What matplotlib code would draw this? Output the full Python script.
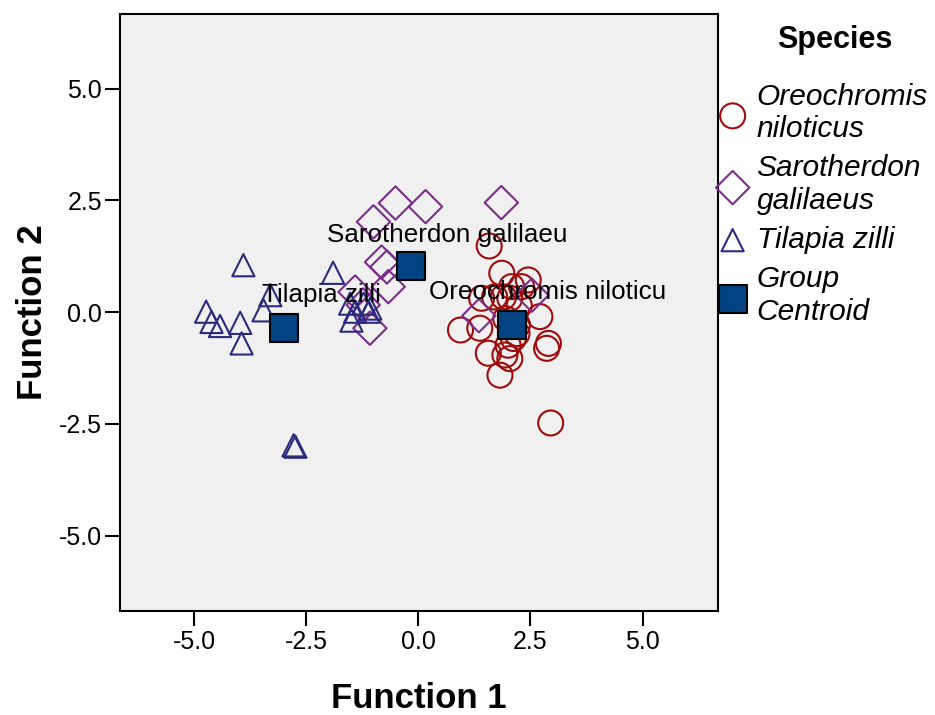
import matplotlib
matplotlib.use("Agg")
import matplotlib.pyplot as plt
from matplotlib.ticker import FormatStrFormatter

plt.rcParams['font.family'] = ['Liberation Sans', 'DejaVu Sans']
plt.rcParams['axes.unicode_minus'] = False

# ---- data ----
oreo_x = [1.58, 1.86, 2.45, 2.30, 2.08, 1.41, 1.70, 2.04, 1.90, 2.71, 0.94, 1.37, 2.21,
          2.12, 2.20, 2.90, 2.86, 1.56, 1.93, 2.04, 2.00, 1.82, 2.95, 2.25, 1.95]
oreo_y = [1.48, 0.87, 0.72, 0.57, 0.57, 0.31, 0.34, 0.31, 0.34, -0.10, -0.40, -0.36, -0.29,
          -0.59, -0.48, -0.70, -0.81, -0.92, -0.96, -1.04, -0.74, -1.41, -2.48, 0.15, -0.15]

saro_x = [-0.51, 0.16, 1.85, -1.00, -0.82, -0.70, -0.67, -1.41, -1.23, -1.08, 1.35, 2.53]
saro_y = [2.44, 2.36, 2.45, 2.02, 1.12, 1.01, 0.57, 0.45, 0.16, -0.36, -0.08, 0.38]

tila_x = [-3.90, -1.90, -3.30, -3.45, -4.73, -4.61, -4.42, -3.97, -3.94, -2.78, -2.74,
          -1.49, -1.52, -1.22, -1.11, -1.41, -1.07]
tila_y = [1.05, 0.88, 0.38, 0.04, 0.01, -0.22, -0.31, -0.24, -0.70, -2.98, -3.01,
          -0.19, 0.19, 0.19, 0.01, 0.01, 0.08]

centroid_x = [2.08, -0.16, -2.99]
centroid_y = [-0.29, 1.03, -0.36]
centroid_labels = ["Oreochromis niloticu", "Sarotherdon galilaeu", "Tilapia zilli"]
centroid_label_offsets = [(-83, 33), (-84, 31), (-22, 33)]  # pixels

legend_title = "Species"
species_labels = ["Oreochromis\nniloticus", "Sarotherdon\ngalilaeus", "Tilapia zilli", "Group\nCentroid"]
xticks = [-5.0, -2.5, 0.0, 2.5, 5.0]
yticks = [-5.0, -2.5, 0.0, 2.5, 5.0]

# ---- styles ----
c_oreo = '#a00a0a'
c_saro = '#7a2d8a'
c_tila = '#2b2b7d'
c_cent = '#034382'

fig = plt.figure(figsize=(9.35, 7.15), dpi=100)
ax = fig.add_axes([120 / 935, 1 - 610.7 / 715, (718 - 120) / 935, (610.7 - 14) / 715])
ax.set_facecolor('#f0f0f0')

h1 = ax.scatter(oreo_x, oreo_y, s=18 ** 2, marker='o', facecolors='none',
                edgecolors=c_oreo, linewidths=1.5, zorder=3)
h2 = ax.scatter(saro_x, saro_y, s=17 ** 2, marker='D', facecolors='none',
                edgecolors=c_saro, linewidths=1.5, zorder=3)
h3 = ax.scatter(tila_x, tila_y, s=16 ** 2, marker='^', facecolors='none',
                edgecolors=c_tila, linewidths=1.5, zorder=3)
for lab, cx, cy, off in zip(centroid_labels, centroid_x, centroid_y, centroid_label_offsets):
    ax.annotate(lab, xy=(cx, cy), xytext=off, textcoords='offset pixels',
                ha='left', va='center', fontsize=18.7, color='black', zorder=4)
h4 = ax.scatter(centroid_x, centroid_y, s=19.5 ** 2, marker='s', facecolors=c_cent,
                edgecolors='black', linewidths=1.5, zorder=5)

ax.set_xlim(-6.65, 6.68)
ax.set_ylim(-6.68, 6.67)
ax.set_xticks(xticks)
ax.set_yticks(yticks)
ax.xaxis.set_major_formatter(FormatStrFormatter('%.1f'))
ax.yaxis.set_major_formatter(FormatStrFormatter('%.1f'))
ax.tick_params(axis='both', length=11, width=1.5, labelsize=18, color='black')
ax.tick_params(axis='x', pad=3)
ax.tick_params(axis='y', pad=2)
for sp in ax.spines.values():
    sp.set_linewidth(1.5)
    sp.set_color('black')

ax.set_xlabel('Function 1', fontsize=25, fontweight='bold', labelpad=20)
ax.set_ylabel('Function 2', fontsize=25, fontweight='bold', labelpad=7)

fig.text(835 / 935, 1 - 40 / 715, legend_title, fontsize=22, fontweight='bold',
         ha='center', va='center')
leg = fig.legend([h1, h2, h3, h4], species_labels, loc='upper left',
                 bbox_to_anchor=(717.7 / 935, 1 - 82.5 / 715), frameon=False,
                 prop={'size': 21.5, 'style': 'italic'},
                 handlelength=1.0, handletextpad=0.30, borderpad=0, borderaxespad=0,
                 labelspacing=0.38, scatterpoints=1)

fig.savefig('out.png', dpi=100)
